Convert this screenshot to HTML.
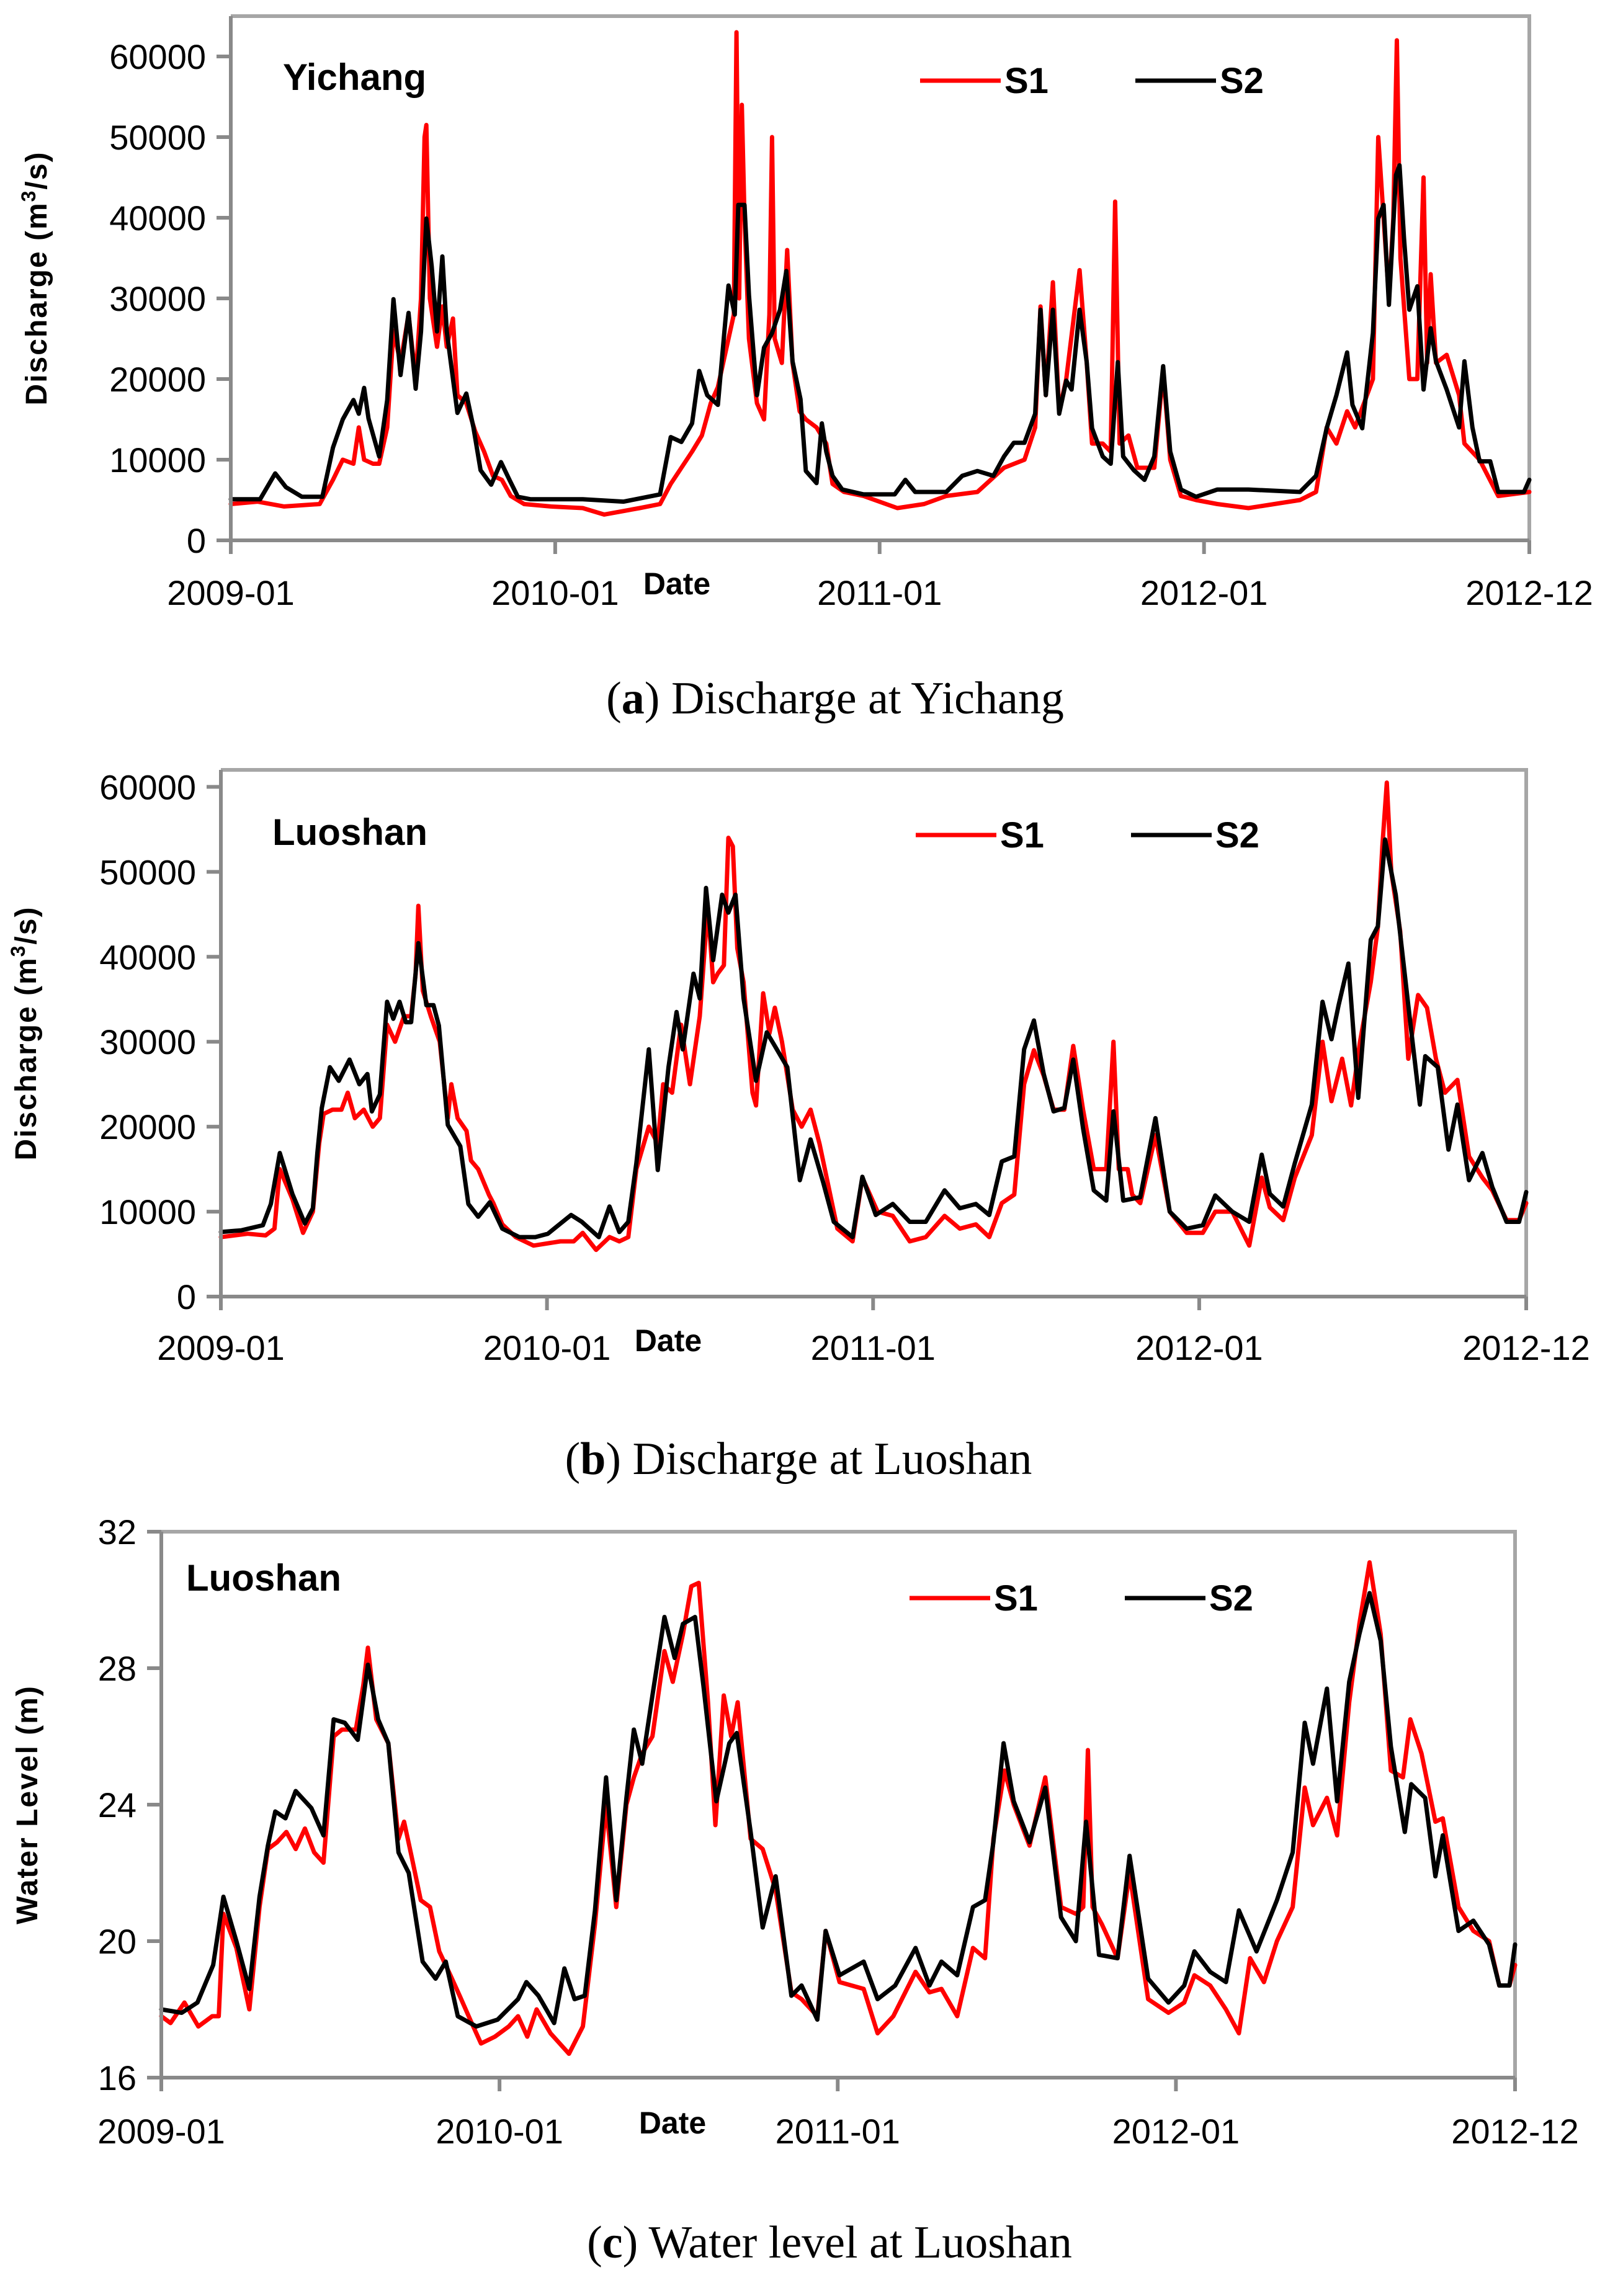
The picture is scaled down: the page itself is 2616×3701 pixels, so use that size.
<!DOCTYPE html>
<html><head><meta charset="utf-8">
<style>
html,body{margin:0;padding:0;background:#fff;}
svg{display:block;}
</style></head>
<body>
<svg id="fig" width="2616" height="3701" viewBox="0 0 2616 3701" xmlns="http://www.w3.org/2000/svg" font-family="Liberation Sans, sans-serif">
<rect x="0" y="0" width="2616" height="3701" fill="#fff"/>
</svg>
<script>
// ---------- data (day index from 2009-01-01) ----------
const xTickLabels = ["2009-01","2010-01","2011-01","2012-01","2012-12"];
const xTickDays = [0,365,730,1095,1461];

const aYTicks = [0,10000,20000,30000,40000,50000,60000];
const aS2Days = [0,33,50,62,80,103,115,126,138,144,150,155,167,176,183,191,200,208,214,220,226,232,238,243,255,265,273,281,293,304,314,323,337,396,442,483,495,507,519,527,536,548,560,567,571,578,583,592,600,609,618,625,632,641,647,659,665,670,677,688,712,747,759,770,805,823,840,858,870,881,893,905,911,917,925,932,940,946,955,963,969,981,990,998,1004,1016,1028,1039,1049,1057,1069,1086,1110,1145,1203,1221,1233,1244,1256,1262,1273,1285,1291,1297,1303,1311,1315,1320,1326,1335,1342,1350,1356,1368,1382,1388,1397,1405,1417,1426,1455,1461];
const aS2Vals = [5.1,5.1,8.3,6.6,5.4,5.4,11.5,15.0,17.4,15.7,18.9,15.1,10.4,17.4,29.9,20.5,28.2,18.8,25.9,39.9,34.0,25.9,35.2,25.9,15.8,18.2,14.0,8.7,6.9,9.7,7.4,5.4,5.1,5.1,4.8,5.7,12.8,12.2,14.5,21.0,18.0,16.8,31.6,28.0,41.6,41.6,30.4,18.0,23.9,25.7,28.6,33.4,22.2,17.5,8.6,7.1,14.5,11.0,8.0,6.3,5.7,5.7,7.5,6.0,6.0,8.0,8.6,8.0,10.4,12.1,12.1,15.7,28.6,18.0,28.6,15.7,19.8,18.7,28.6,22.1,13.9,10.4,9.5,22.1,10.4,8.7,7.5,10.4,21.6,11.0,6.3,5.4,6.3,6.3,6.0,8.0,13.9,18.0,23.3,16.8,13.9,25.7,39.9,41.6,29.2,45.3,46.5,37.5,28.6,31.5,18.7,26.3,22.2,18.7,14.0,22.2,14.0,9.8,9.8,6.0,6.0,7.5];
const aS1Days = [0,30,60,100,115,126,138,144,150,160,167,176,183,191,200,208,214,218,220,224,232,238,243,250,255,265,275,285,295,305,315,330,360,396,420,460,483,495,507,519,530,540,548,560,566,569,572,575,578,583,592,600,606,609,612,620,626,632,640,647,659,670,677,690,712,750,780,805,840,870,893,905,911,917,925,932,940,955,963,969,981,990,995,1000,1010,1020,1039,1049,1057,1069,1086,1110,1145,1203,1221,1233,1244,1256,1265,1285,1291,1297,1303,1308,1312,1316,1326,1335,1342,1346,1350,1356,1368,1382,1388,1405,1426,1461];
const aS1Vals = [4.5,4.8,4.2,4.5,7.5,10,9.5,14,10,9.5,9.5,14,26,22,28,20,30,50,51.5,30,24,29,24,27.5,18,17,13.5,11,8,7.5,5.5,4.5,4.2,4.0,3.2,4.0,4.5,7,9,11,13,17,19,25,28,63,30,54,40,25,17,15,28,50,25,22,36,22,16,15,14,12,7,6,5.5,4,4.5,5.5,6,9,10,14,29,18,32,16,20,33.5,22,12,12,11,42,12,13,9,9,21,10,5.5,5,4.5,4,5,6,14,12,16,14,20,50,40,30,40,62,35,20,20,45,22,33,22,23,18,12,10,5.5,6];

const bYTicks = [0,10000,20000,30000,40000,50000,60000];
const bS2Days = [0,23,47,56,66,80,94,103,108,113,122,132,144,155,164,169,178,186,193,200,207,213,221,230,238,244,254,268,277,288,301,315,334,352,366,392,404,423,435,446,456,465,479,489,501,510,517,529,536,543,551,561,568,576,585,599,611,620,634,648,660,674,686,707,718,733,752,771,789,810,827,845,860,874,888,899,910,921,932,944,954,965,977,991,999,1010,1029,1046,1062,1081,1099,1113,1132,1151,1165,1174,1189,1202,1221,1233,1243,1251,1262,1273,1287,1295,1303,1315,1329,1342,1348,1362,1374,1384,1397,1412,1423,1439,1453,1461];
const bS2Vals = [7.6,7.8,8.4,10.9,16.9,12.1,8.6,10.4,16.9,22.2,27.0,25.4,27.9,25.0,26.2,21.8,23.8,34.7,32.7,34.7,32.3,32.3,41.6,34.3,34.3,31.9,20.2,17.7,10.9,9.4,11.1,8.0,7.0,7.0,7.4,9.6,8.8,7.0,10.6,7.6,8.8,15.7,29.1,14.9,27.0,33.5,29.1,38.0,35.1,48.1,39.6,47.3,45.2,47.3,35.1,25.4,31.1,29.5,27.0,13.7,18.5,13.5,8.8,7.0,14.1,9.6,10.9,8.8,8.8,12.5,10.4,10.9,9.6,15.9,16.5,29.1,32.5,26.2,21.8,22.2,27.9,19.8,12.5,11.3,21.8,11.3,11.7,21.0,10.0,8.0,8.4,11.9,10.0,8.8,16.7,12.1,10.6,15.7,22.6,34.7,30.3,34.3,39.2,23.4,42.0,43.6,53.8,47.3,34.3,22.6,28.3,27.0,17.3,22.6,13.7,16.9,12.9,8.8,8.8,12.3];
const bS1Days = [0,30,50,60,66,80,92,103,110,115,125,135,142,150,160,170,178,186,195,205,213,218,221,226,235,245,254,258,265,275,280,288,300,305,315,330,350,380,395,405,420,435,446,456,465,479,489,495,505,515,525,536,545,551,556,563,568,573,578,585,595,599,607,614,620,628,640,650,660,670,680,690,707,718,735,752,771,789,810,827,845,860,874,888,899,910,921,932,944,954,965,977,991,999,1005,1015,1020,1029,1046,1062,1081,1099,1113,1132,1151,1165,1174,1189,1202,1221,1233,1243,1255,1265,1275,1287,1295,1300,1305,1310,1320,1329,1340,1350,1360,1370,1384,1397,1412,1423,1439,1453,1461];
const bS1Vals = [7.0,7.4,7.2,8.0,15.0,11.5,7.5,10,18,21.5,22,22,24,21,22,20,21,32,30,33,33,38,46,36,33,30,21,25,21,19.5,16,15,12,11,8.5,7,6,6.5,6.5,7.5,5.5,7,6.5,7,15,20,18,25,24,32,25,33,46,37,38,39,54,53,41,37,24,22.5,35.7,31,34,30,22,20,22,18,13,8,6.5,14,10,9.5,6.5,7,9.5,8,8.5,7,11,12,25,29,26,22,22,29.5,22,15,15,30,15,15,12,11,19,10,7.5,7.5,10,10,6,14,10.5,9,14,19,30,23,28,22.5,30,37,43.5,53,60.5,50,43,28,35.5,34,28,24,25.5,16.5,14,12.5,9,9,11];

const cYTicks = [16,20,24,28,32];
const cS2Days = [0,22,39,56,67,81,95,106,115,123,134,145,162,175,186,198,212,223,234,245,256,267,282,296,307,320,340,363,385,394,407,424,435,446,457,468,480,491,502,510,519,530,543,554,563,576,585,599,613,621,636,649,663,680,691,708,717,732,758,773,792,814,829,842,859,876,889,898,909,920,937,954,971,987,998,1012,1032,1045,1065,1087,1104,1115,1132,1149,1163,1182,1204,1221,1234,1243,1258,1269,1282,1293,1304,1316,1327,1342,1349,1364,1375,1383,1400,1416,1433,1444,1455,1461];
const cS2Vals = [18.0,17.9,18.2,19.3,21.3,20.0,18.6,21.3,22.8,23.8,23.6,24.4,23.9,23.1,26.5,26.4,25.9,28.1,26.5,25.8,22.6,22.0,19.4,18.9,19.4,17.8,17.5,17.7,18.3,18.8,18.4,17.6,19.2,18.3,18.4,20.9,24.8,21.2,24.2,26.2,25.2,27.2,29.5,28.3,29.3,29.5,27.5,24.1,25.8,26.1,23.2,20.4,21.9,18.4,18.7,17.7,20.3,19.0,19.4,18.3,18.7,19.8,18.7,19.4,19.0,21.0,21.2,22.9,25.8,24.1,22.9,24.5,20.7,20.0,23.5,19.6,19.5,22.5,18.9,18.2,18.7,19.7,19.1,18.8,20.9,19.7,21.2,22.6,26.4,25.2,27.4,24.1,27.6,29.0,30.2,28.8,25.7,23.2,24.6,24.2,21.9,23.1,20.3,20.6,19.9,18.7,18.7,19.9];
const cS1Days = [0,10,25,40,55,62,67,81,95,106,115,125,135,145,155,165,175,186,195,210,218,223,232,245,256,262,270,280,290,300,312,322,335,345,360,375,385,395,405,420,440,455,468,480,491,502,510,519,530,543,552,563,572,580,590,598,607,615,622,636,649,663,680,691,708,717,732,758,773,790,814,829,842,859,876,889,898,910,920,937,954,971,987,995,1000,1005,1015,1032,1045,1065,1087,1104,1115,1132,1149,1163,1175,1190,1204,1221,1234,1243,1258,1269,1282,1293,1304,1316,1327,1340,1348,1360,1375,1383,1400,1416,1433,1444,1455,1461];
const cS1Vals = [17.8,17.6,18.2,17.5,17.8,17.8,20.8,19.8,18.0,21.0,22.7,22.9,23.2,22.7,23.3,22.6,22.3,26.0,26.2,26.2,27.5,28.6,26.5,25.8,23.0,23.5,22.5,21.2,21.0,19.7,19.0,18.4,17.6,17.0,17.2,17.5,17.8,17.2,18.0,17.3,16.7,17.5,20.5,24.0,21.0,24.0,24.8,25.5,26.0,28.5,27.6,29.0,30.4,30.5,27.0,23.4,27.2,26.0,27.0,23.0,22.7,21.5,18.5,18.3,17.8,20.3,18.8,18.6,17.3,17.8,19.1,18.5,18.6,17.8,19.8,19.5,23.0,25.0,24.0,22.8,24.8,21.0,20.8,21.0,25.6,21.0,20.5,19.5,22.0,18.3,17.9,18.2,19.0,18.7,18.0,17.3,19.5,18.8,20.0,21.0,24.5,23.4,24.2,23.1,27.0,29.3,31.1,29.0,25.0,24.8,26.5,25.5,23.5,23.6,21.0,20.3,20.0,18.7,18.7,19.3];

// ---------- drawing ----------
const NS = "http://www.w3.org/2000/svg";
const svg = document.getElementById("fig");
function mk(tag, attrs, parent, text){
  const e = document.createElementNS(NS, tag);
  for (const k in attrs) e.setAttribute(k, attrs[k]);
  if (text !== undefined) e.textContent = text;
  (parent || svg).appendChild(e);
  return e;
}

function panel(cfg){
  const g = mk("g", {});
  
  
  const L=cfg.L,R=cfg.R,T=cfg.T,B=cfg.B;
  const xs = d => L + (d/1461)*(R-L);
  const ys = v => B - (v-cfg.y0)/(cfg.y1-cfg.y0)*(B-T);
  // frame top/right
  const fr = mk("path", {d:`M${L} ${T} H${R} V${B}`, fill:"none", stroke:"#a6a6a6", "stroke-width":6}, g);
  
  
  // series
  const drawSeries = (days, vals, color, nm) => {
    const pts = days.map((d,i)=> xs(d).toFixed(1)+","+ys(vals[i]*cfg.mult).toFixed(1)).join(" ");
    const pl = mk("polyline", {points:pts, fill:"none", stroke:color, "stroke-width":7, "stroke-linejoin":"round", "stroke-linecap":"round"}, g);
    
    
  };
  drawSeries(cfg.s1d, cfg.s1v, "#ff0000", "series-s1");
  drawSeries(cfg.s2d, cfg.s2v, "#000000", "series-s2");
  // axes
  const ax = mk("path", {d:`M${L} ${T} V${B} H${R}`, fill:"none", stroke:"#898989", "stroke-width":6}, g);
  
  
  cfg.yticks.forEach(v=>{
    const y = ys(v);
    const t = mk("line", {x1:L-23, x2:L, y1:y, y2:y, stroke:"#898989", "stroke-width":6}, g);
    
    
    const lb = mk("text", {x:L-40, y:y+20, "text-anchor":"end", "font-size":56, fill:"#000"}, g, String(v));
    
    
  });
  xTickDays.forEach((d,i)=>{
    const x = xs(d);
    const t = mk("line", {x1:x, x2:x, y1:B, y2:B+22, stroke:"#898989", "stroke-width":6}, g);
    
    
    const lb = mk("text", {x:x, y:cfg.xlabY, "text-anchor":"middle", "font-size":56, fill:"#000"}, g, xTickLabels[i]);
    
    
  });
  const dt = mk("text", {x:cfg.dateX, y:cfg.dateY, "text-anchor":"middle", "font-size":50, "font-weight":"bold"}, g, "Date");
  
  
  const yt = mk("text", {x:0, y:0, "text-anchor":"middle", "font-size":48, "font-weight":"bold", "letter-spacing":"2", transform:`translate(${cfg.ytX},${(T+B)/2}) rotate(-90)`}, g);
  
  
  if (cfg.sup){
    yt.appendChild(document.createTextNode("Discharge (m"));
    const ts = mk("tspan", {"font-size":32, dy:-18}, yt, "3");
    mk("tspan", {dy:18}, yt, "/s)");
  } else yt.textContent = cfg.ytitle;
  const st = mk("text", {x:cfg.stX, y:cfg.stY, "font-size":60, "font-weight":"bold"}, g, cfg.station);
  
  
  // legend
  [["S1","#ff0000",cfg.lgX],["S2","#000",cfg.lgX+347]].forEach(([n,c,x])=>{
    const lg = mk("g", {}, g);
    
    
    mk("line", {x1:x, x2:x+130, y1:cfg.lgY, y2:cfg.lgY, stroke:c, "stroke-width":7}, lg);
    mk("text", {x:x+136, y:cfg.lgY+20, "font-size":58, "font-weight":"bold"}, lg, n);
  });
  // caption
  const cp = mk("text", {x:cfg.capX, y:cfg.capY+24, "text-anchor":"middle", "font-size":74, "font-family":"Liberation Serif, serif"}, g);
  
  
  mk("tspan", {}, cp, "(");
  mk("tspan", {"font-weight":"bold"}, cp, cfg.letter);
  mk("tspan", {}, cp, ") " + cfg.caption);
}

panel({name:"panel-a-yichang-discharge", L:372,R:2465,T:26,B:871,y0:0,y1:65000,mult:1000,
  s1d:aS1Days,s1v:aS1Vals,s2d:aS2Days,s2v:aS2Vals,yticks:aYTicks,
  xlabY:975,dateX:1091,dateY:958,ytX:75,sup:true,station:"Yichang",stX:456,stY:145,
  lgX:1483,lgY:130,capX:1346,capY:1126,letter:"a",caption:"Discharge at Yichang"});
panel({name:"panel-b-luoshan-discharge", L:356,R:2460,T:1241,B:2090,y0:0,y1:62000,mult:1000,
  s1d:bS1Days,s1v:bS1Vals,s2d:bS2Days,s2v:bS2Vals,yticks:bYTicks,
  xlabY:2192,dateX:1077,dateY:2178,ytX:58,sup:true,station:"Luoshan",stX:439,stY:1362,
  lgX:1476,lgY:1346,capX:1287,capY:2352,letter:"b",caption:"Discharge at Luoshan"});
panel({name:"panel-c-luoshan-water-level", L:260,R:2442,T:2469,B:3349,y0:16,y1:32,mult:1,
  s1d:cS1Days,s1v:cS1Vals,s2d:cS2Days,s2v:cS2Vals,yticks:cYTicks,
  xlabY:3455,dateX:1084,dateY:3439,ytX:60,sup:false,ytitle:"Water Level (m)",station:"Luoshan",stX:300,stY:2564,
  lgX:1466,lgY:2576,capX:1337,capY:3615,letter:"c",caption:"Water level at Luoshan"});
</script>
</body></html>
